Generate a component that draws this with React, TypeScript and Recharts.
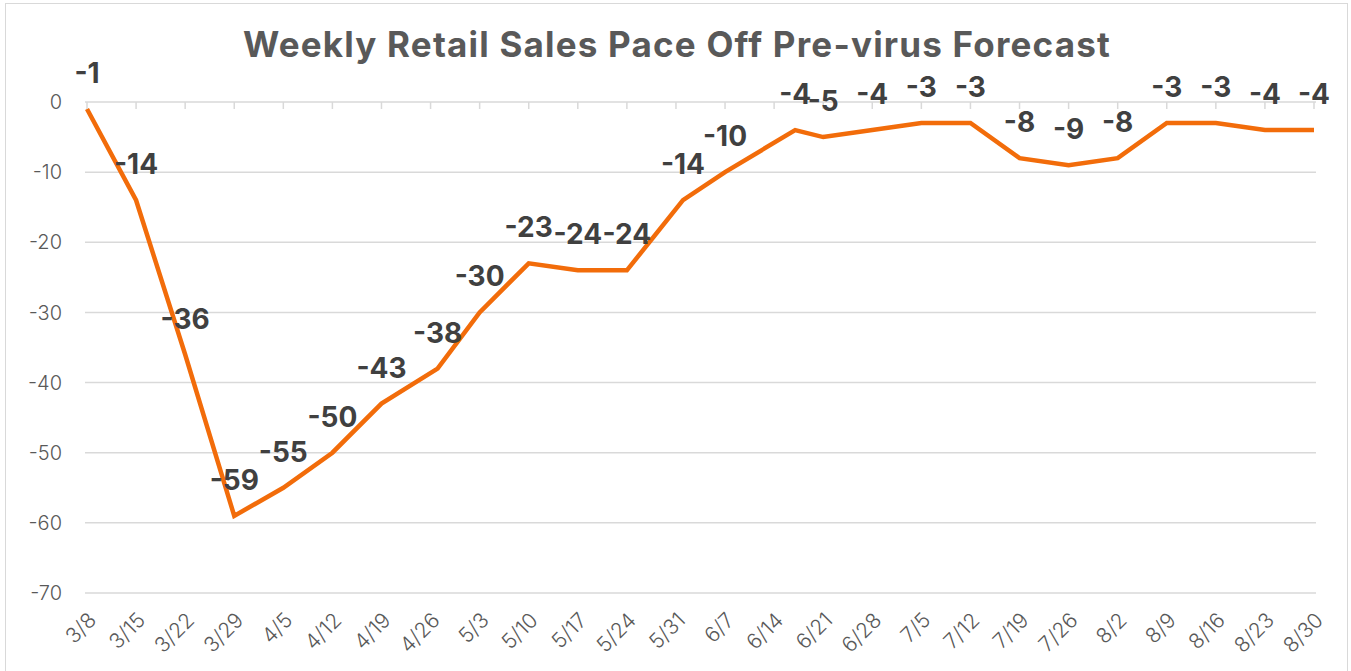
import { CartesianGrid, LabelList, Line, LineChart, XAxis, YAxis } from "recharts";

// week labels on the axis
const WEEKS = [
  "3/8", "3/15", "3/22", "3/29", "4/5", "4/12", "4/19", "4/26", "5/3", "5/10", "5/17", "5/24", "5/31",
  "6/7", "6/14", "6/21", "6/28", "7/5", "7/12", "7/19", "7/26", "8/2", "8/9", "8/16", "8/23", "8/30",
];

// dates the readings were taken (a few fall off the weekly grid)
const POINT_DATES = [
  "3/8", "3/15", "3/22", "3/29", "4/5", "4/12", "4/19", "4/27", "5/3", "5/10", "5/17", "5/24", "6/1",
  "6/7", "6/17", "6/21", "6/28", "7/5", "7/12", "7/19", "7/26", "8/2", "8/9", "8/16", "8/23", "8/30",
];

const PACE = [
  -1, -14, -36, -59, -55, -50, -43, -38, -30, -23, -24, -24, -14,
  -10, -4, -5, -4, -3, -3, -8, -9, -8, -3, -3, -4, -4,
];

const Y_TICKS = [0, -10, -20, -30, -40, -50, -60, -70];

function dayOf(md: string) {
  const [m, d] = md.split("/").map(Number);
  return Math.round((Date.UTC(2020, m - 1, d) - Date.UTC(2020, 2, 8)) / 86_400_000);
}

const data = POINT_DATES.map((d, i) => ({ day: dayOf(d), pace: PACE[i] }));
const weekTicks = WEEKS.map(dayOf);
const weekLabel = new Map(WEEKS.map((w) => [dayOf(w), w]));

const GRAY = "#595959";
const ORANGE = "#f26c0a";

function PointLabel(props: any) {
  const { x, y, value } = props;
  return (
    <text
      x={x}
      y={y - 26}
      textAnchor="middle"
      fill="#404040"
      fontSize={28}
      fontWeight={700}
      fontFamily="Inter, sans-serif"
    >
      {value}
    </text>
  );
}

export default function App() {
  return (
    <div style={{ position: "absolute", left: 0, top: 0, width: 1351, height: 671, background: "#fff", fontFamily: "Inter, sans-serif" }}>
      <div
        style={{
          position: "absolute",
          left: 5,
          top: 3,
          width: 1343,
          height: 670,
          border: "1px solid #d9d9d9",
          boxSizing: "border-box",
        }}
      />
      <div
        style={{
          position: "absolute",
          left: 0,
          top: 24,
          width: 1354,
          textAlign: "center",
          fontSize: 35,
          fontWeight: 700,
          letterSpacing: 1.2,
          color: GRAY,
          lineHeight: "40px",
        }}
      >
        Weekly Retail Sales Pace Off Pre-virus Forecast
      </div>
      <LineChart
        width={1351}
        height={671}
        data={data}
        margin={{ top: 102, right: 35, bottom: 8, left: 0 }}
        style={{ position: "absolute", left: 0, top: 0 }}
      >
        <CartesianGrid vertical={false} stroke="#d9d9d9" strokeWidth={1.5} />
        <XAxis
          xAxisId="bottom"
          dataKey="day"
          type="number"
          domain={[0, 175]}
          ticks={weekTicks}
          interval={0}
          tickFormatter={(v) => weekLabel.get(Number(v)) ?? ""}
          angle={-45}
          textAnchor="end"
          height={70}
          axisLine={false}
          tickLine={false}
          tickMargin={12}
          tick={{ fontSize: 21, fill: GRAY, fontWeight: 300 }}
          padding={{ left: 2, right: 2 }}
        />
        <XAxis
          xAxisId="top"
          orientation="top"
          dataKey="day"
          type="number"
          domain={[0, 175]}
          ticks={weekTicks}
          interval={0}
          height={1}
          mirror
          tickFormatter={() => ""}
          axisLine={false}
          tickLine={{ stroke: "#d9d9d9", strokeWidth: 1.5 }}
          tickSize={7}
          padding={{ left: 2, right: 2 }}
        />
        <YAxis
          domain={[-70, 0]}
          ticks={Y_TICKS}
          interval={0}
          width={85}
          axisLine={false}
          tickLine={false}
          tickMargin={17}
          tick={{ fontSize: 20, fill: GRAY, fontWeight: 300 }}
        />
        <Line
          xAxisId="bottom"
          dataKey="pace"
          stroke={ORANGE}
          strokeWidth={4.5}
          dot={false}
          isAnimationActive={false}
        >
          <LabelList dataKey="pace" content={PointLabel} />
        </Line>
      </LineChart>
    </div>
  );
}
